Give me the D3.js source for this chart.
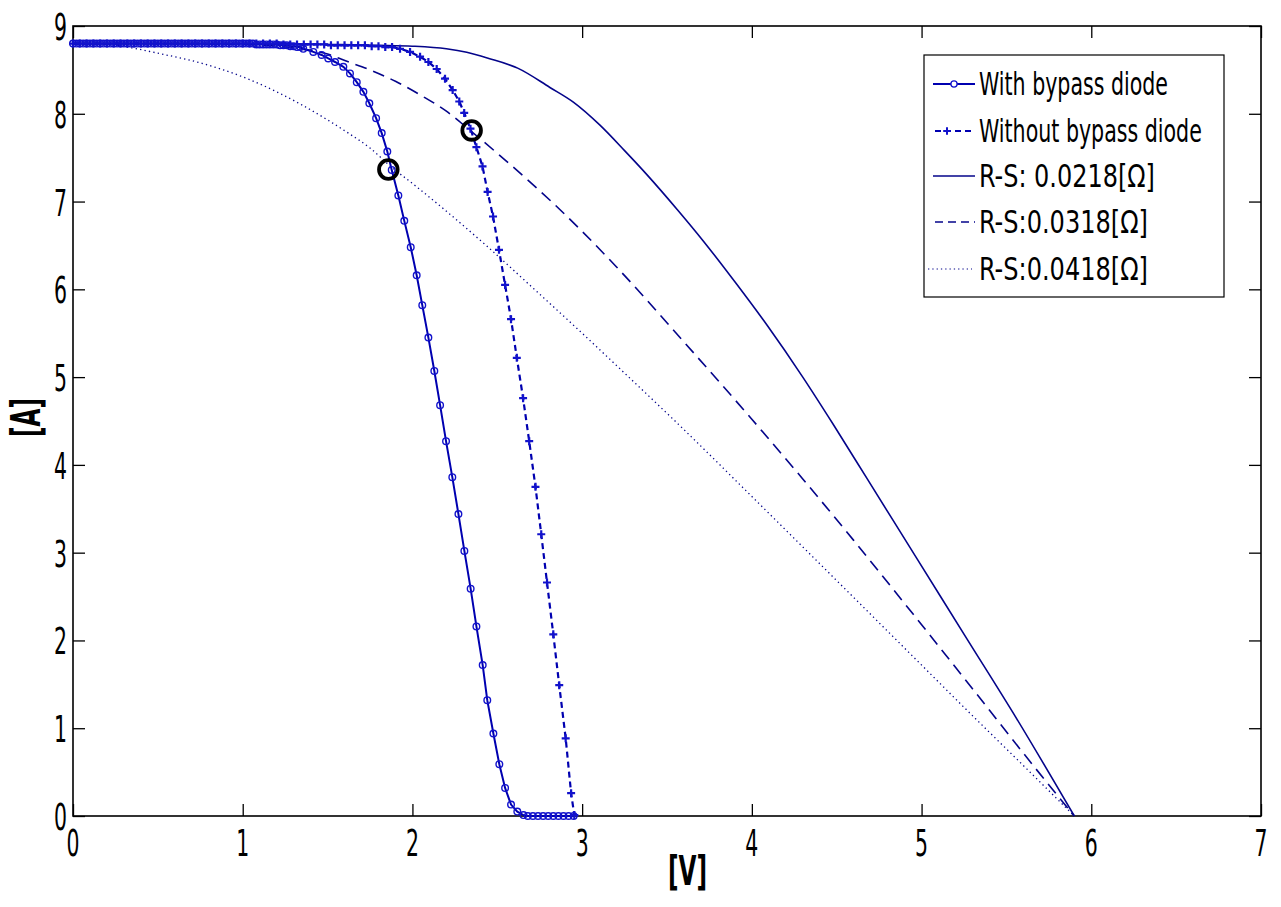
<!DOCTYPE html>
<html><head><meta charset="utf-8">
<script src="https://cdn.jsdelivr.net/npm/d3@7"></script>
<style>body{margin:0;background:#fff}svg{display:block}</style>
</head><body>
<svg id="c" width="1281" height="907"></svg>
<script>
// ---------- DATA ----------
const xTicks = [0,1,2,3,4,5,6,7];
const yTicks = [0,1,2,3,4,5,6,7,8,9];
const legendLabels = ["With bypass diode","Without bypass diode","R-S: 0.0218[Ω]","R-S:0.0318[Ω]","R-S:0.0418[Ω]"];

// With bypass diode (circle markers)
const withV = [0,0.02,0.04,0.06,0.08,0.10,0.12,0.14,0.16,0.18,0.20,0.22,0.24,0.26,0.28,0.30,0.32,0.34,0.36,0.38,0.40,0.42,0.44,0.46,0.48,0.50,0.52,0.54,0.56,0.58,0.60,0.62,0.64,0.66,0.68,0.70,0.72,0.74,0.76,0.78,0.80,0.82,0.84,0.86,0.88,0.90,0.92,0.94,0.96,0.98,1.00,1.02,1.04,1.06,1.08,1.10,1.12,1.14,1.16,1.18,1.20,1.22,1.24,1.26,1.28,1.30,1.32,1.34,
  1.357,1.416,1.465,1.504,1.544,1.593,1.632,1.672,1.711,1.746,1.786,1.819,1.852,1.878,1.917,1.952,1.990,2.025,2.058,2.094,2.129,2.163,2.198,2.235,2.271,2.306,2.343,2.377,2.414,2.441,2.477,2.512,2.546,2.581,2.618,2.654,2.68,2.71,2.74,2.77,2.80,2.83,2.86,2.89,2.92,2.95];
const withI = [8.8,8.8,8.8,8.8,8.8,8.8,8.8,8.8,8.8,8.8,8.8,8.8,8.8,8.8,8.8,8.8,8.8,8.8,8.8,8.8,8.8,8.8,8.8,8.8,8.8,8.8,8.8,8.8,8.8,8.8,8.8,8.8,8.8,8.8,8.8,8.8,8.8,8.8,8.8,8.8,8.8,8.8,8.8,8.8,8.8,8.8,8.8,8.8,8.8,8.8,8.8,8.8,8.8,8.8,8.79,8.79,8.79,8.79,8.79,8.79,8.79,8.78,8.78,8.78,8.77,8.77,8.76,8.76,
  8.74,8.705,8.67,8.63,8.59,8.535,8.46,8.36,8.25,8.12,7.95,7.78,7.57,7.36,7.07,6.78,6.48,6.16,5.82,5.45,5.07,4.68,4.27,3.86,3.44,3.02,2.59,2.16,1.72,1.32,0.94,0.59,0.32,0.13,0.05,0.01,0,0,0,0,0,0,0,0,0,0];

// Without bypass diode (plus markers)
const woV = [0,0.04,0.08,0.12,0.16,0.20,0.24,0.28,0.32,0.36,0.40,0.44,0.48,0.52,0.56,0.60,0.64,0.68,0.72,0.76,0.80,0.84,0.88,0.92,0.96,1.00,1.04,1.08,1.12,1.16,1.20,1.24,1.28,1.32,1.36,1.40,1.44,1.48,1.52,1.56,1.60,1.64,1.68,1.72,1.76,1.80,1.84,1.88,
  1.927,1.986,2.045,2.094,2.143,2.192,2.237,2.276,2.305,2.342,2.377,2.413,2.443,2.475,2.510,2.546,2.581,2.615,2.652,2.688,2.725,2.759,2.793,2.830,2.865,2.903,2.935,2.954];
const woI = [8.8,8.8,8.8,8.8,8.8,8.8,8.8,8.8,8.8,8.8,8.8,8.8,8.8,8.8,8.8,8.8,8.8,8.8,8.8,8.8,8.8,8.8,8.8,8.8,8.8,8.8,8.8,8.8,8.8,8.8,8.8,8.79,8.79,8.79,8.79,8.79,8.79,8.79,8.78,8.78,8.78,8.78,8.78,8.78,8.77,8.77,8.76,8.76,
  8.74,8.705,8.65,8.59,8.51,8.40,8.27,8.14,8.01,7.83,7.62,7.40,7.11,6.83,6.45,6.05,5.66,5.22,4.76,4.27,3.75,3.21,2.66,2.07,1.49,0.885,0.26,0.01];

// R-S 0.0218 (solid)
const rs1V = [0,0.5,1.0,1.5,1.8,2.0,2.2,2.32,2.45,2.62,2.81,2.95,3.105,3.25,3.38,3.56,3.71,3.91,4.09,4.30,4.48,4.68,4.97,5.27,5.56,5.90];
const rs1I = [8.8,8.8,8.8,8.79,8.78,8.77,8.74,8.70,8.63,8.52,8.30,8.13,7.87,7.58,7.31,6.91,6.56,6.06,5.59,5.00,4.46,3.84,2.94,2.01,1.11,0];
// R-S 0.0318 (dashed)
const rs2V = [0,0.5,1.0,1.3,1.5,1.61,1.75,1.9,2.05,2.2,2.34,2.5,2.7,2.83,3.0,3.2,3.6,4.0,4.3,4.6,4.95,5.3,5.66,5.9];
const rs2I = [8.8,8.8,8.79,8.75,8.68,8.60,8.50,8.37,8.21,8.03,7.81,7.55,7.21,6.98,6.66,6.26,5.40,4.52,3.84,3.14,2.30,1.45,0.57,0];
// R-S 0.0418 (dotted)
const rs3V = [0,0.2,0.35,0.5,0.75,0.87,1.04,1.2,1.34,1.5,1.63,1.75,1.86,2.03,2.2,2.44,2.73,3.0,3.22,3.59,4.0,4.48,4.87,5.27,5.66,5.9];
const rs3I = [8.8,8.79,8.75,8.69,8.58,8.51,8.39,8.25,8.11,7.93,7.77,7.61,7.42,7.16,6.89,6.49,5.98,5.50,5.10,4.42,3.64,2.72,1.97,1.20,0.46,0];

// highlighted operating points
const ringV = [1.858, 2.349];
const ringI = [7.365, 7.81];

// ---------- DRAW ----------
const svg = d3.select("#c");
const L=73, R=1261, T=26, B=816;
const x = d3.scaleLinear().domain([0,7]).range([L,R]);
const y = d3.scaleLinear().domain([0,9]).range([B,T]);
const FONT = "'Liberation Sans Narrow','DejaVu Sans Condensed','Liberation Sans',sans-serif";
const lineCol = "#0000b0", markCol = "#1212cc", rsCol = "#04048a";

function zip(a,b){return a.map((v,i)=>[v,b[i]]);}
const line = d3.line().x(d=>x(d[0])).y(d=>y(d[1]));
const smooth = d3.line().x(d=>x(d[0])).y(d=>y(d[1])).curve(d3.curveMonotoneX);

// condensed text helper: width-fitted
function ctext(g, str, px, py, size, anchor, targetW, rot){
  const t = g.append("text").text(str).attr("font-family",FONT).attr("font-size",size).attr("fill","#000");
  const w = t.node().getComputedTextLength();
  const sx = targetW / w;
  let dx = anchor==="end" ? -targetW : anchor==="middle" ? -targetW/2 : 0;
  t.attr("transform",`translate(${px},${py})${rot?` rotate(${rot})`:""} translate(${dx},0) scale(${sx},1)`);
  return t;
}

// axes ticks (inside, all four sides)
svg.append("g").attr("transform",`translate(0,${B})`).call(d3.axisBottom(x).tickValues(xTicks).tickSize(-12).tickSizeOuter(0).tickFormat(""));
svg.append("g").attr("transform",`translate(0,${T})`).call(d3.axisTop(x).tickValues(xTicks).tickSize(-12).tickSizeOuter(0).tickFormat(""));
svg.append("g").attr("transform",`translate(${L},0)`).call(d3.axisLeft(y).tickValues(yTicks).tickSize(-12).tickSizeOuter(0).tickFormat(""));
svg.append("g").attr("transform",`translate(${R},0)`).call(d3.axisRight(y).tickValues(yTicks).tickSize(-12).tickSizeOuter(0).tickFormat(""));
svg.selectAll(".tick line").attr("stroke","#000").attr("stroke-width",1.3);
svg.selectAll(".domain").remove();
svg.append("rect").attr("x",L).attr("y",T).attr("width",R-L).attr("height",B-T).attr("fill","none").attr("stroke","#000").attr("stroke-width",1.6);

// tick labels
const lab = svg.append("g");
xTicks.forEach(v=>ctext(lab, String(v), x(v), 856, 38, "middle", 13));
yTicks.forEach(v=>ctext(lab, String(v), 67, y(v)+14, 38, "end", 13));
ctext(lab, "[V]", 685, 885, 40, "middle", 34).attr("font-weight","bold");
ctext(lab, "[A]", 40, 420, 40, "middle", 34, -90).attr("font-weight","bold");

// curves
const plot = svg.append("g");
plot.append("path").attr("d",smooth(zip(rs3V,rs3I))).attr("fill","none").attr("stroke",rsCol).attr("stroke-width",1.3).attr("stroke-dasharray","1.3,3.2");
plot.append("path").attr("d",smooth(zip(rs2V,rs2I))).attr("fill","none").attr("stroke",rsCol).attr("stroke-width",1.6).attr("stroke-dasharray","12,7");
plot.append("path").attr("d",smooth(zip(rs1V,rs1I))).attr("fill","none").attr("stroke",rsCol).attr("stroke-width",1.6);

plot.append("path").attr("d",line(zip(withV,withI))).attr("fill","none").attr("stroke",lineCol).attr("stroke-width",2);
plot.append("path").attr("d",line(zip(woV,woI))).attr("fill","none").attr("stroke",lineCol).attr("stroke-width",2.2).attr("stroke-dasharray","6,4");

plot.selectAll("circle.m").data(zip(withV,withI)).enter().append("circle")
  .attr("cx",d=>x(d[0])).attr("cy",d=>y(d[1])).attr("r",3.3)
  .attr("fill","none").attr("stroke",markCol).attr("stroke-width",1.4);
plot.selectAll("path.p").data(zip(woV,woI)).enter().append("path")
  .attr("transform",d=>`translate(${x(d[0])},${y(d[1])})`)
  .attr("d","M-4,0H4M0,-4V4").attr("stroke",markCol).attr("stroke-width",2.2);

plot.selectAll("circle.ring").data(zip(ringV,ringI)).enter().append("circle")
  .attr("cx",d=>x(d[0])).attr("cy",d=>y(d[1])).attr("r",9.3)
  .attr("fill","none").attr("stroke","#000").attr("stroke-width",3.8);

// legend
const lg = svg.append("g");
lg.append("rect").attr("x",924).attr("y",55).attr("width",300).attr("height",242).attr("fill","#fff").attr("stroke","#000").attr("stroke-width",1.2);
const rowsY = [84,131,176,222,269];
const widths = [189,223,176,169,169];
legendLabels.forEach((s,i)=>ctext(lg, s, 979, rowsY[i]+11, 32, "start", widths[i]));
// samples
lg.append("line").attr("x1",933).attr("x2",975).attr("y1",rowsY[0]).attr("y2",rowsY[0]).attr("stroke",lineCol).attr("stroke-width",1.8);
lg.append("circle").attr("cx",954).attr("cy",rowsY[0]).attr("r",3.1).attr("fill","#fff").attr("stroke",markCol).attr("stroke-width",1.3);
lg.append("line").attr("x1",935).attr("x2",975).attr("y1",rowsY[1]).attr("y2",rowsY[1]).attr("stroke",lineCol).attr("stroke-width",1.8).attr("stroke-dasharray","6,4");
lg.append("path").attr("transform",`translate(947,${rowsY[1]})`).attr("d","M-3.8,0H3.8M0,-3.8V3.8").attr("stroke",markCol).attr("stroke-width",2);
lg.append("line").attr("x1",933).attr("x2",975).attr("y1",rowsY[2]).attr("y2",rowsY[2]).attr("stroke",rsCol).attr("stroke-width",1.5);
lg.append("line").attr("x1",935).attr("x2",975).attr("y1",rowsY[3]).attr("y2",rowsY[3]).attr("stroke",rsCol).attr("stroke-width",1.5).attr("stroke-dasharray","8,5");
lg.append("line").attr("x1",928).attr("x2",972).attr("y1",rowsY[4]).attr("y2",rowsY[4]).attr("stroke",rsCol).attr("stroke-width",1.2).attr("stroke-dasharray","1.3,3");
</script>
</body></html>
